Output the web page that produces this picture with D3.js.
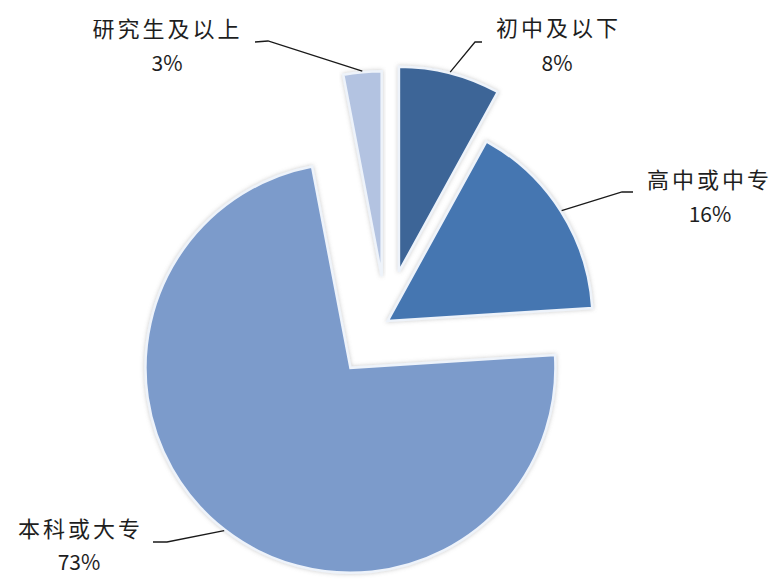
<!DOCTYPE html>
<html>
<head>
<meta charset="utf-8">
<script src="https://cdn.jsdelivr.net/npm/d3@7/dist/d3.min.js"></script>
<style>
html,body{margin:0;padding:0;background:#fff;}
svg{display:block;}
text{font-family:"Noto Sans CJK SC","Microsoft YaHei",sans-serif;fill:#1e1e1e;}
</style>
</head>
<body>
<svg id="chart" width="781" height="581"></svg>
<script>
// ---- data ----
const categories = ["初中及以下", "高中或中专", "本科或大专", "研究生及以上"];
const values = [8, 16, 73, 3];
const percentLabels = ["8%", "16%", "73%", "3%"];

// ---- layout / style (not data) ----
const colors = ["#3C6597", "#4576B1", "#7C9BCB", "#B3C3E1"];
const explode = [52, 2, 58, 46];
const center = {x: 386, y: 322};
const radius = 205;
const labelLayout = [
  {x: 557, y: 26, px: 557, py: 62, elbow: [475, 42], end: [482, 42]},
  {x: 708, y: 178, px: 710, py: 213, elbow: [622, 192], end: [633, 192]},
  {x: 79, y: 527, px: 79, py: 561, elbow: [167, 542], end: [153, 542]},
  {x: 166, y: 27, px: 167, py: 62, elbow: [268, 41], end: [255, 42]}
];

const svg = d3.select("#chart");
const defs = svg.append("defs");
const f = defs.append("filter").attr("id", "glow").attr("x", "-10%").attr("y", "-10%").attr("width", "120%").attr("height", "120%");
f.append("feDropShadow").attr("dx", 0).attr("dy", 0).attr("stdDeviation", 2).attr("flood-color", "#8a8a8a").attr("flood-opacity", 0.45);

const pie = d3.pie().sort(null).value(d => d)(values);
const arc = d3.arc().innerRadius(0).outerRadius(radius);

const g = svg.append("g").attr("transform", `translate(${center.x},${center.y})`);

function offset(d, i) {
  const a = (d.startAngle + d.endAngle) / 2;
  return [Math.sin(a) * explode[i], -Math.cos(a) * explode[i]];
}

g.selectAll("path.slice").data(pie).enter().append("path")
  .attr("class", "slice")
  .attr("d", arc)
  .attr("transform", (d, i) => { const o = offset(d, i); return `translate(${o[0]},${o[1]})`; })
  .attr("fill", (d, i) => colors[i])
  .attr("stroke", "#eef3fa")
  .attr("stroke-width", 2.5)
  .attr("stroke-linejoin", "miter")
  .attr("filter", "url(#glow)");

// leader lines
const lines = svg.append("g");
pie.forEach((d, i) => {
  const a = (d.startAngle + d.endAngle) / 2;
  const o = offset(d, i);
  const sx = center.x + o[0] + Math.sin(a) * (radius + 1);
  const sy = center.y + o[1] - Math.cos(a) * (radius + 1);
  const L = labelLayout[i];
  lines.append("path")
    .attr("d", d3.line()([[sx, sy], L.elbow, L.end]))
    .attr("fill", "none")
    .attr("stroke", "#1a1a1a")
    .attr("stroke-width", 1.3);
});

// labels
const labels = svg.append("g");
categories.forEach((c, i) => {
  const L = labelLayout[i];
  labels.append("text")
    .attr("x", L.x).attr("y", L.y)
    .attr("text-anchor", "middle")
    .attr("dominant-baseline", "central")
    .attr("font-size", 22)
    .attr("letter-spacing", 3)
    .attr("dx", 1.5)
    .text(c);
  labels.append("text")
    .attr("x", L.px).attr("y", L.py)
    .attr("text-anchor", "middle")
    .attr("dominant-baseline", "central")
    .attr("font-size", 21)
    .attr("font-family", "'Open Sans','DejaVu Sans',sans-serif")
    .text(percentLabels[i]);
});
</script>
</body>
</html>
